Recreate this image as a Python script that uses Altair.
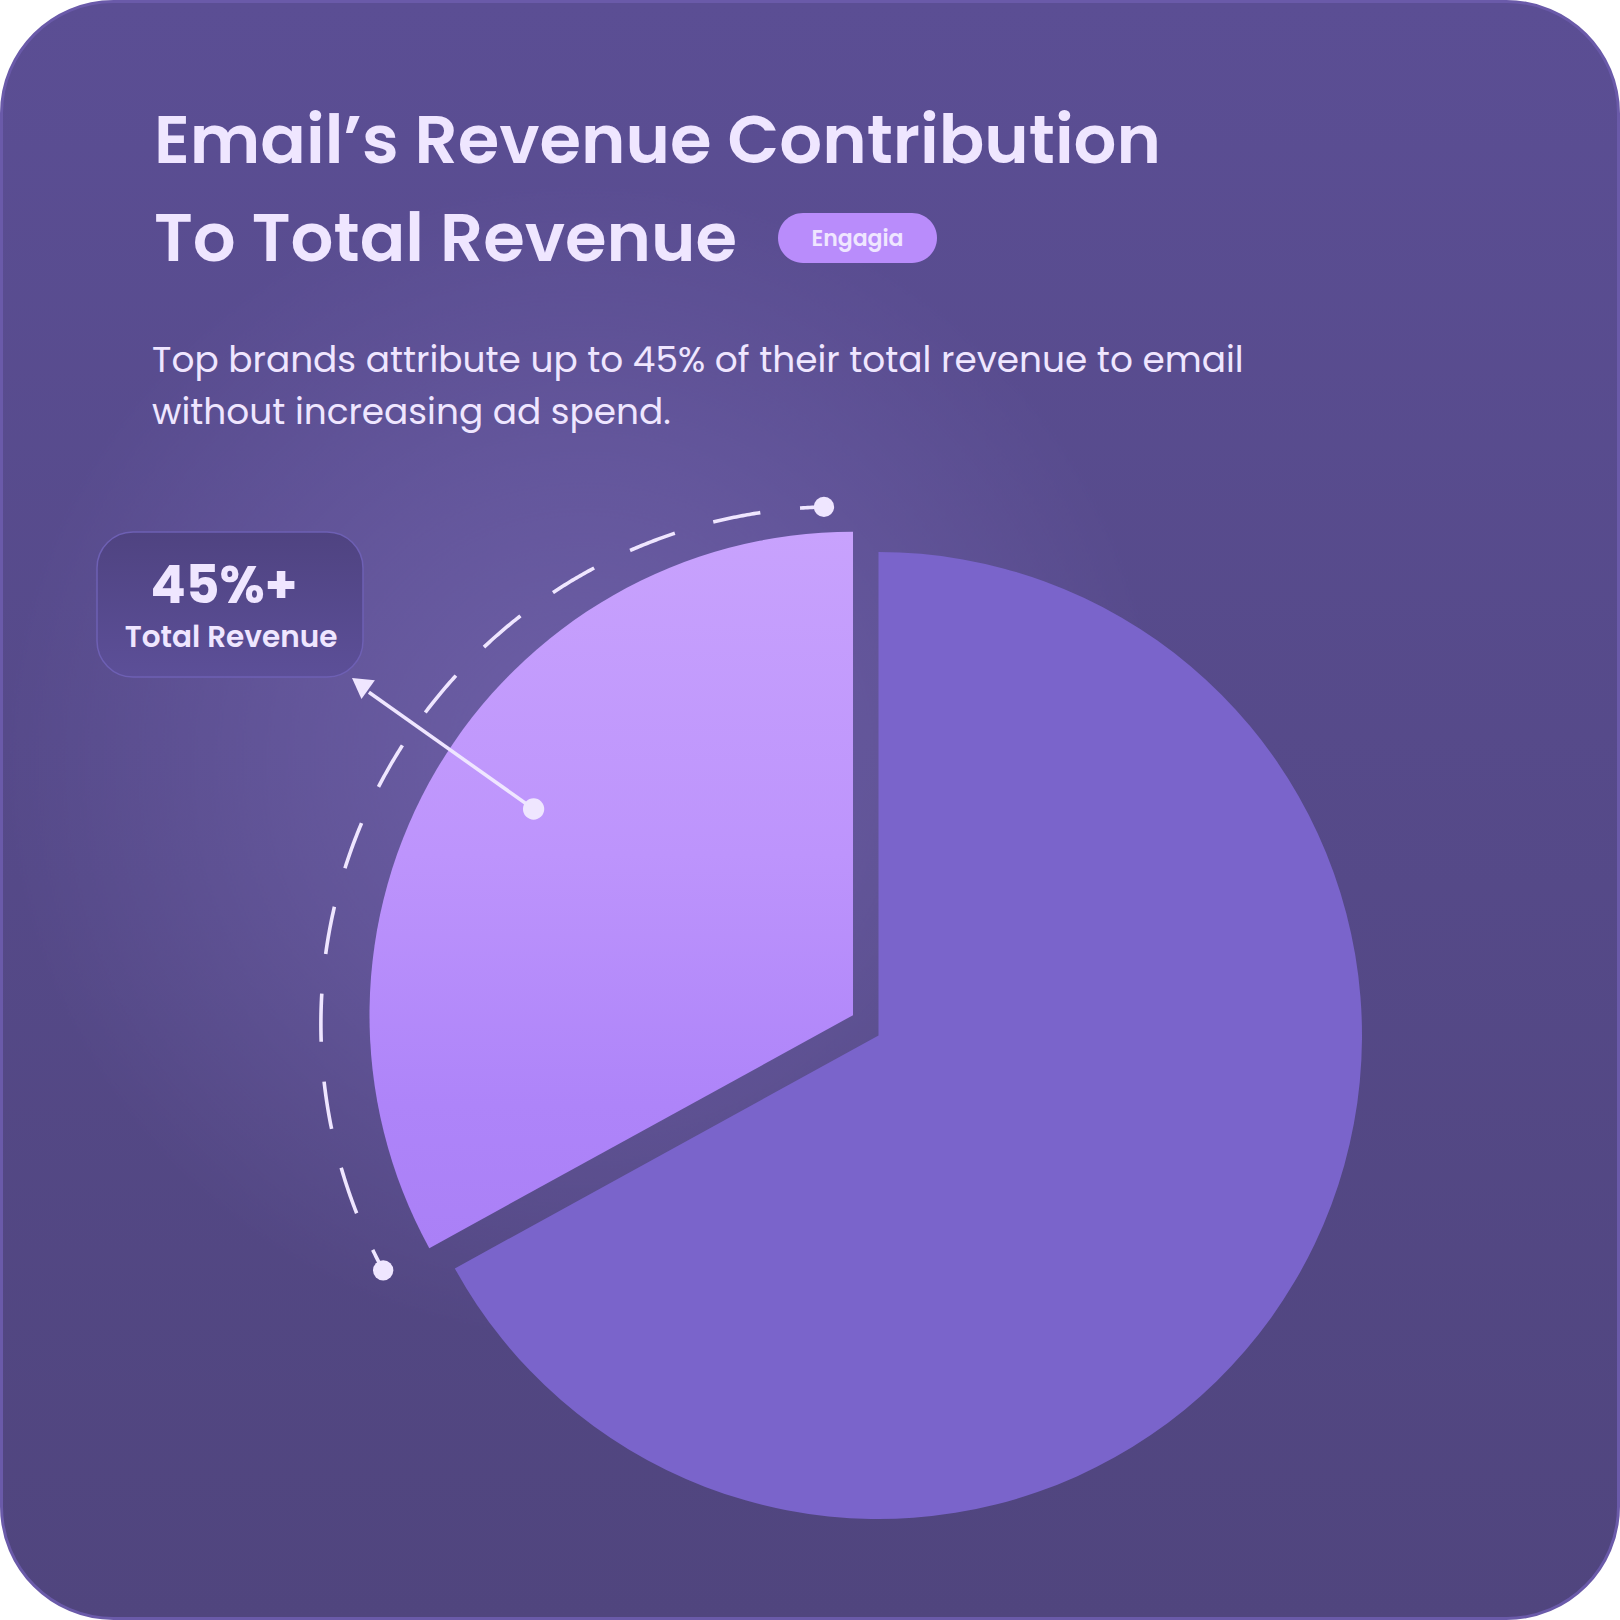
import altair as alt
import pandas as pd

# ---------------- data ----------------
SEGMENTS = ["Other revenue", "Email"]
SHARES = [67, 33]
TITLE_LINES = ["Email’s Revenue Contribution", "To Total Revenue"]
SUBTITLE_LINES = [
    "Top brands attribute up to 45% of their total revenue to email",
    "without increasing ad spend.",
]
BADGE_TEXT = ["Engagia"]
CALLOUT_VALUE = ["45%+"]
CALLOUT_LABEL = ["Total Revenue"]

# ---------------- layout / style ----------------
W = H = 1620
TXT = "#efe6ff"
FONT = "Poppins, Open Sans, sans-serif"

MAIN_C = (878.5, 1035.5)
EMAIL_C = (853.0, 1015.2)
PIE_R = 483.5
ARC_C = (838.4, 1024.2)
ARC_R = 517.5
ARC_START, ARC_END = 241.6, 358.4

pie_df = pd.DataFrame({"segment": SEGMENTS, "share": SHARES, "idx": list(range(len(SEGMENTS)))})
one = pd.DataFrame({"k": [0]})


def lin(stops, x1=0, y1=0, x2=0, y2=1):
    return alt.LinearGradient(
        gradient="linear",
        stops=[alt.GradientStop(color=c, offset=o) for o, c in stops],
        x1=x1, y1=y1, x2=x2, y2=y2,
    )


# card
card = alt.Chart(one).mark_rect(
    cornerRadius=112,
    fill=lin([(0, "#5b4e94"), (1, "#50457e")]),
    stroke="#6a5aa9",
    strokeWidth=3,
).encode(x=alt.value(1.5), x2=alt.value(W - 1.5), y=alt.value(1.5), y2=alt.value(H - 1.5))

glow = alt.Chart(one).mark_rect(
    cornerRadius=112,
    fill=alt.RadialGradient(
        gradient="radial",
        stops=[
            alt.GradientStop(color="rgba(128,112,190,0.55)", offset=0),
            alt.GradientStop(color="rgba(128,112,190,0.30)", offset=0.5),
            alt.GradientStop(color="rgba(128,112,190,0)", offset=1),
        ],
        x1=0.36, y1=0.47, r1=0, x2=0.36, y2=0.47, r2=0.36,
    ),
).encode(x=alt.value(1.5), x2=alt.value(W - 1.5), y=alt.value(1.5), y2=alt.value(H - 1.5))

# pie: two layers sharing the stacked theta scale, each showing one slice at its own centre
theta = alt.Theta("share:Q", stack=True)
main_slice = alt.Chart(pie_df).mark_arc(radius=PIE_R, fill="#7a64cb").encode(
    theta=theta,
    order=alt.Order("idx:Q"),
    opacity=alt.condition(alt.datum.segment == SEGMENTS[0], alt.value(1), alt.value(0)),
    x=alt.value(MAIN_C[0]),
    y=alt.value(MAIN_C[1]),
)
email_slice = alt.Chart(pie_df).mark_arc(
    radius=PIE_R,
    fill=lin([(0, "#c8a2fd"), (0.45, "#bd94fc"), (0.8, "#ae84f9"), (1, "#aa80f6")]),
).encode(
    theta=theta,
    order=alt.Order("idx:Q"),
    opacity=alt.condition(alt.datum.segment == SEGMENTS[1], alt.value(1), alt.value(0)),
    x=alt.value(EMAIL_C[0]),
    y=alt.value(EMAIL_C[1]),
)

# dashed guide arc around the email slice
px = f"{ARC_C[0]} + {ARC_R} * sin(datum.t * PI / 180)"
py = f"{ARC_C[1]} - {ARC_R} * cos(datum.t * PI / 180)"
guide = alt.Chart(alt.sequence(ARC_START, ARC_END + 0.001, 0.25, as_="t")).transform_calculate(
    px=px, py=py
).mark_line(stroke=TXT, strokeWidth=3.6, strokeDash=[48, 40], strokeDashOffset=25).encode(
    x=alt.X("px:Q", scale=None, axis=None),
    y=alt.Y("py:Q", scale=None, axis=None),
    order=alt.Order("t:Q"),
)
guide_dots = alt.Chart(pd.DataFrame({"t": [ARC_START, ARC_END]})).transform_calculate(
    px=px, py=py
).mark_circle(size=415, color=TXT, opacity=1).encode(
    x=alt.X("px:Q", scale=None, axis=None),
    y=alt.Y("py:Q", scale=None, axis=None),
)

# pointer arrow from the email slice to the callout
ptr = pd.DataFrame({"x": [533.6, 368.9], "y": [809.0, 692.2], "i": [0, 1]})
ptr_line = alt.Chart(ptr).mark_line(stroke=TXT, strokeWidth=3.5).encode(
    x=alt.X("x:Q", scale=None, axis=None), y=alt.Y("y:Q", scale=None, axis=None), order="i:Q"
)
ptr_dot = alt.Chart(ptr.iloc[[0]]).mark_circle(size=452, color=TXT, opacity=1).encode(
    x=alt.X("x:Q", scale=None, axis=None), y=alt.Y("y:Q", scale=None, axis=None)
)
ptr_head = alt.Chart(one).mark_point(
    shape="triangle-up", size=529, filled=True, color=TXT, opacity=1, angle=305.8
).encode(x=alt.value(360.1), y=alt.value(683.8))

# callout box
box = alt.Chart(one).mark_rect(
    cornerRadius=36,
    fill=lin([(0, "#4f4381"), (1, "#5c4f98")]),
    stroke="#6e60b4",
    strokeWidth=1.5,
).encode(x=alt.value(97), x2=alt.value(363), y=alt.value(532), y2=alt.value(677))
callout_value = alt.Chart(pd.DataFrame({"t": CALLOUT_VALUE})).mark_text(
    font=FONT, fontSize=52, fontWeight=700, color=TXT, align="center", baseline="alphabetic"
).encode(text="t:N", x=alt.value(224), y=alt.value(603))
callout_label = alt.Chart(pd.DataFrame({"t": CALLOUT_LABEL})).mark_text(
    font=FONT, fontSize=29.5, fontWeight=600, color=TXT, align="center", baseline="alphabetic"
).encode(text="t:N", x=alt.value(231), y=alt.value(647))

# badge
badge = alt.Chart(one).mark_rect(cornerRadius=25, fill="#b98cfb").encode(
    x=alt.value(778), x2=alt.value(937), y=alt.value(213), y2=alt.value(263)
)
badge_text = alt.Chart(pd.DataFrame({"t": BADGE_TEXT})).mark_text(
    font=FONT, fontSize=22, fontWeight=600, color=TXT, align="center", baseline="middle"
).encode(text="t:N", x=alt.value(857.5), y=alt.value(239))

# title & subtitle
title_df = pd.DataFrame({"t": TITLE_LINES, "y": [163, 261]})
title = alt.Chart(title_df).mark_text(
    font=FONT, fontSize=67.3, fontWeight=600, color=TXT, align="left", baseline="alphabetic"
).encode(text="t:N", x=alt.value(154), y=alt.Y("y:Q", scale=None, axis=None))

sub_df = pd.DataFrame({"t": SUBTITLE_LINES, "y": [372, 424]})
subtitle = alt.Chart(sub_df).mark_text(
    font=FONT, fontSize=35.9, fontWeight=400, color=TXT, align="left", baseline="alphabetic"
).encode(text="t:N", x=alt.value(152), y=alt.Y("y:Q", scale=None, axis=None))

chart = alt.layer(
    card, glow, main_slice, email_slice, guide, guide_dots,
    ptr_line, ptr_head, ptr_dot, box, callout_value, callout_label,
    badge, badge_text, title, subtitle,
).properties(
    width=W, height=H, background="white", padding=0,
    autosize=alt.AutoSizeParams(type="none"),
).configure_view(stroke="transparent")

chart.save("out.html", embed_options={"renderer": "svg", "actions": False})
